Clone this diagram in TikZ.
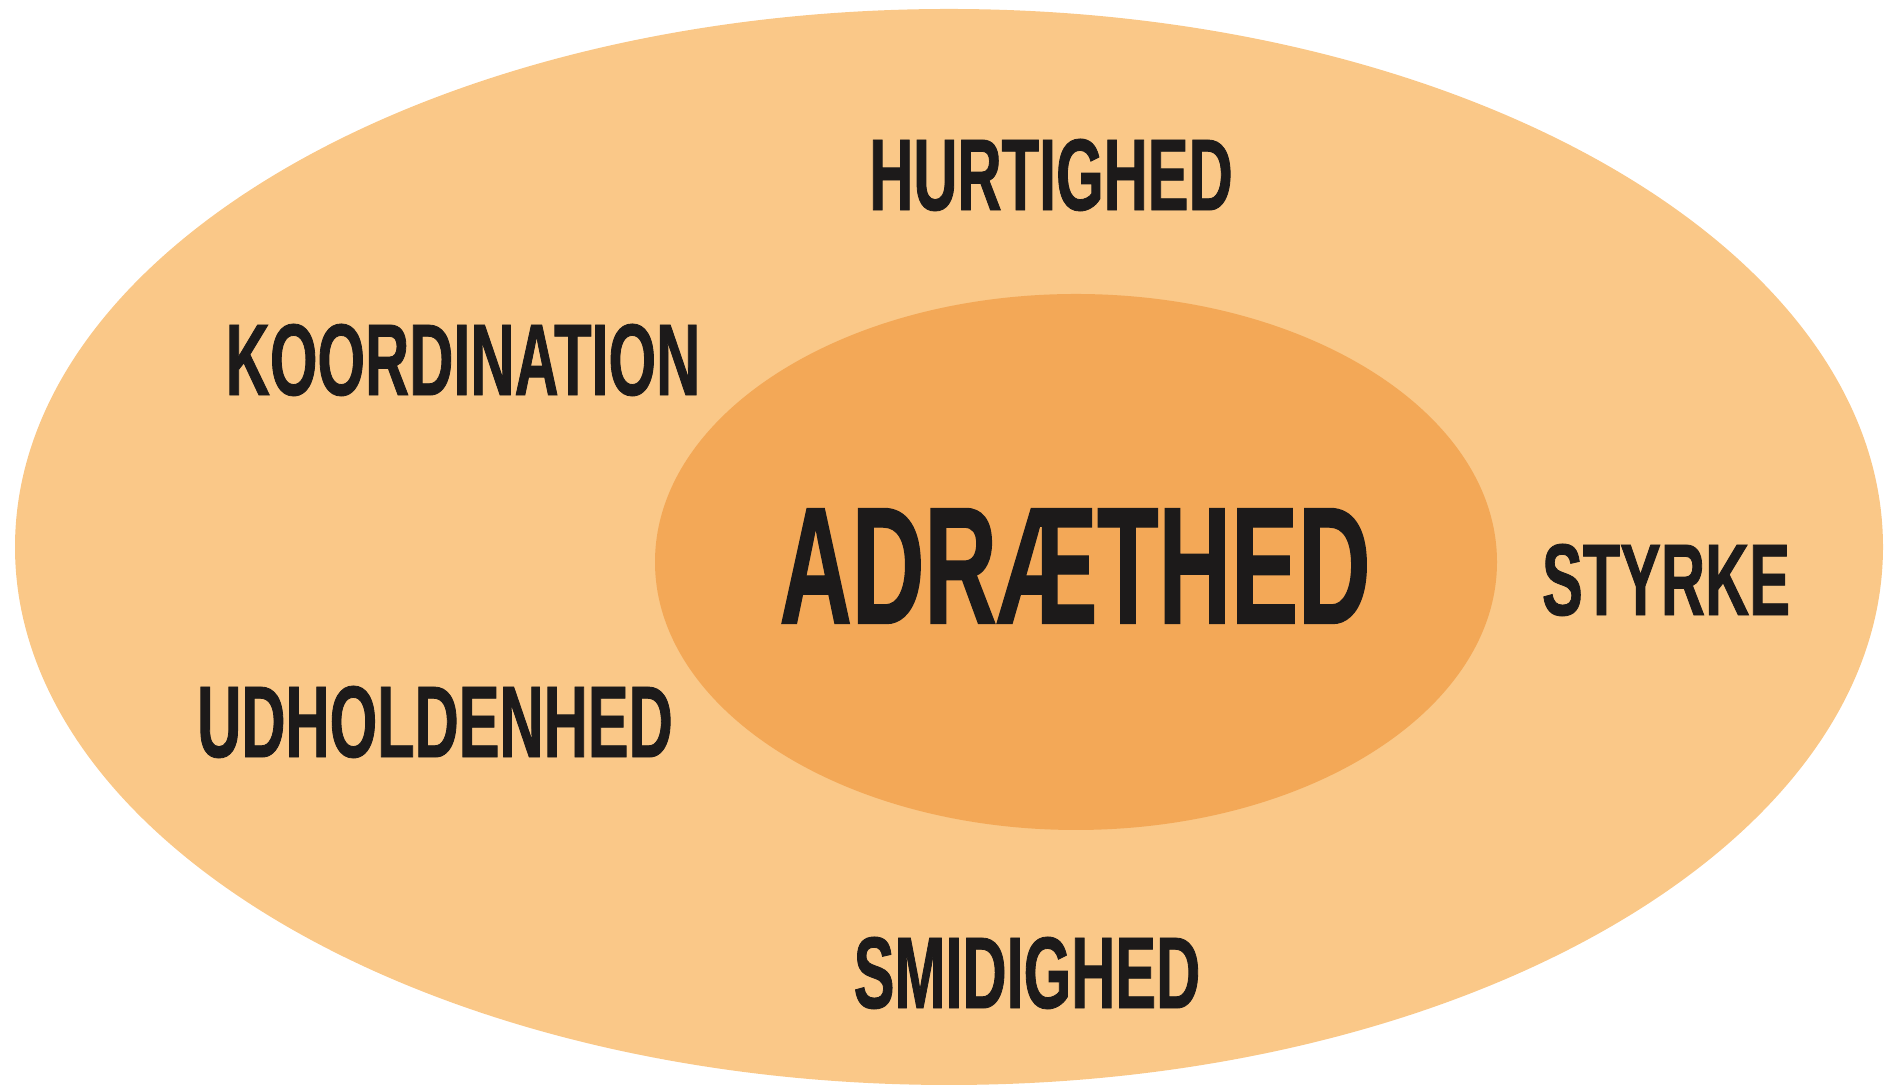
\documentclass[tikz,border=0pt]{standalone}
\usepackage{fontspec}
\newfontfamily\condfont[FakeStretch=0.6,FakeBold=0.8]{Liberation Sans}
\definecolor{ydre}{RGB}{250,200,136}
\definecolor{indre}{RGB}{243,168,87}
\definecolor{skrift}{RGB}{28,26,26}

\begin{document}
\begin{tikzpicture}[ord/.style={text=skrift, font=\condfont\bfseries\fontsize{29}{30}\selectfont, inner sep=0pt},
					hoved/.style={ord, font=\condfont\bfseries\fontsize{47.6}{50}\selectfont}]
	\useasboundingbox (0,0) rectangle (18.9,10.89);
	\fill[ydre] (9.49,5.42) ellipse [x radius=9.34, y radius=5.38];
	\fill[indre] (10.76,5.27) ellipse [x radius=4.21, y radius=2.68];

	\node[hoved] (adr) at (10.75,5.23) {ADRÆTHED};
	\node[ord] (hur) at (10.51,9.14) {HURTIGHED};
	\node[ord] (koo) at (4.63,7.29) {KOORDINATION};
	\node[ord] (sty) at (16.66,5.09) {STYRKE};
	\node[ord] (udh) at (4.35,3.67) {UDHOLDENHED};
	\node[ord] (smi) at (10.27,1.16) {SMIDIGHED};
\end{tikzpicture}
\end{document}
